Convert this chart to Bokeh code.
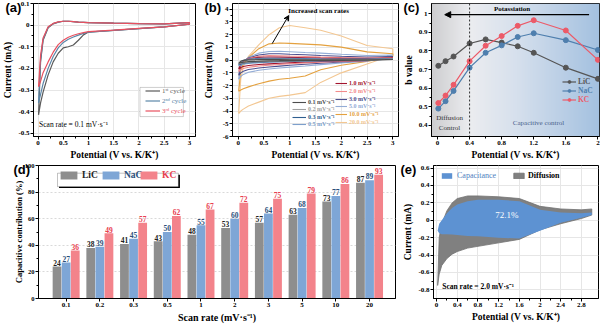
import numpy as np
from bokeh.plotting import figure
from bokeh.layouts import column, row
from bokeh.models import (Label, Legend, LegendItem, BoxAnnotation, Span, Arrow,
                          VeeHead, NormalHead, FixedTicker)
from bokeh.embed import file_html
from bokeh.resources import INLINE
from bokeh.core.properties import value

SERIF = "Liberation Serif"
SANS = "Liberation Sans"

# ---------------- (a) CV, first three cycles at 0.1 mV/s ----------------
a_E = [0.01, 0.05, 0.1, 0.2, 0.3, 0.4, 0.5, 0.6, 0.7, 0.8, 0.9, 1.0, 1.5, 2.0, 2.5, 3.0]
a_up_1 = [-0.415, -0.17, -0.07, -0.012, 0.006, 0.014, 0.018, 0.018, 0.016, 0.014, 0.013, 0.012, 0.009, 0.007, 0.006, 0.012]
a_low_1 = [-0.415, -0.36, -0.31, -0.23, -0.17, -0.13, -0.105, -0.1, -0.092, -0.07, -0.045, -0.032, -0.024, -0.016, -0.008, 0.004]
a_up_2 = [-0.36, -0.16, -0.065, -0.01, 0.007, 0.014, 0.018, 0.018, 0.016, 0.014, 0.013, 0.012, 0.009, 0.007, 0.006, 0.012]
a_low_2 = [-0.36, -0.32, -0.27, -0.2, -0.145, -0.105, -0.08, -0.065, -0.055, -0.046, -0.038, -0.032, -0.024, -0.016, -0.008, 0.004]
a_up_3 = [-0.285, -0.14, -0.06, -0.008, 0.008, 0.015, 0.018, 0.018, 0.016, 0.014, 0.013, 0.012, 0.009, 0.007, 0.006, 0.012]
a_low_3 = [-0.285, -0.26, -0.22, -0.17, -0.125, -0.09, -0.07, -0.056, -0.047, -0.04, -0.035, -0.03, -0.023, -0.015, -0.008, 0.004]
a_labels = ["1ˢᵗ cycle", "2ⁿᵈ cycle", "3ʳᵈ cycle"]
a_colors = ["#5a5a5a", "#5b86a8", "#e8505f"]

# ---------------- (b) CV at increasing scan rates ----------------
b_E = [0.01, 0.05, 0.1, 0.2, 0.4, 0.6, 0.8, 1.0, 1.3, 1.6, 2.0, 2.5, 3.0]
b_rates = ["0.1", "0.2", "0.3", "0.5", "1.0", "2.0", "3.0", "5.0", "10.0", "20.0"]
b_up = {
    "0.1": [-0.25, -0.08, -0.02, 0.02, 0.04, 0.04, 0.04, 0.035, 0.03, 0.03, 0.03, 0.03, 0.05],
    "0.2": [-0.3, -0.1, -0.03, 0.03, 0.07, 0.07, 0.07, 0.06, 0.05, 0.05, 0.05, 0.05, 0.08],
    "0.3": [-0.36, -0.12, -0.03, 0.05, 0.1, 0.11, 0.1, 0.09, 0.08, 0.07, 0.07, 0.06, 0.1],
    "0.5": [-0.46, -0.15, -0.04, 0.08, 0.15, 0.16, 0.15, 0.14, 0.12, 0.1, 0.09, 0.08, 0.12],
    "1.0": [-0.7, -0.25, -0.06, 0.1, 0.22, 0.25, 0.24, 0.22, 0.19, 0.16, 0.14, 0.12, 0.16],
    "2.0": [-0.9, -0.3, -0.08, 0.13, 0.3, 0.36, 0.35, 0.32, 0.28, 0.24, 0.2, 0.16, 0.2],
    "3.0": [-1.2, -0.4, -0.1, 0.17, 0.4, 0.5, 0.5, 0.46, 0.42, 0.36, 0.3, 0.24, 0.28],
    "5.0": [-1.5, -0.5, -0.12, 0.22, 0.55, 0.68, 0.7, 0.66, 0.6, 0.55, 0.46, 0.36, 0.4],
    "10.0": [-2.45, -0.8, -0.3, 0.2, 0.9, 1.28, 1.35, 1.32, 1.26, 1.2, 1.02, 0.65, 0.5],
    "20.0": [-4.2, -1.5, -0.5, 0.3, 1.2, 2.0, 2.55, 2.72, 2.55, 2.35, 1.9, 1.15, 0.9],
}
b_low = {
    "0.1": [-0.25, -0.2, -0.16, -0.12, -0.09, -0.07, -0.06, -0.04, -0.03, -0.02, -0.02, -0.01, 0.05],
    "0.2": [-0.3, -0.25, -0.2, -0.16, -0.12, -0.1, -0.08, -0.06, -0.04, -0.03, -0.02, -0.01, 0.08],
    "0.3": [-0.36, -0.3, -0.25, -0.2, -0.16, -0.13, -0.1, -0.08, -0.06, -0.04, -0.03, -0.01, 0.1],
    "0.5": [-0.46, -0.38, -0.32, -0.26, -0.21, -0.17, -0.14, -0.11, -0.08, -0.06, -0.04, -0.02, 0.12],
    "1.0": [-0.7, -0.58, -0.5, -0.42, -0.34, -0.29, -0.24, -0.2, -0.15, -0.11, -0.07, -0.03, 0.16],
    "2.0": [-0.9, -0.76, -0.66, -0.56, -0.46, -0.4, -0.34, -0.28, -0.22, -0.16, -0.1, -0.04, 0.2],
    "3.0": [-1.2, -1.0, -0.88, -0.74, -0.62, -0.54, -0.47, -0.4, -0.32, -0.24, -0.15, -0.05, 0.28],
    "5.0": [-1.5, -1.28, -1.12, -0.95, -0.8, -0.7, -0.62, -0.55, -0.46, -0.35, -0.22, -0.08, 0.4],
    "10.0": [-2.45, -2.35, -2.25, -2.1, -1.85, -1.65, -1.5, -1.42, -1.25, -0.75, -0.4, -0.1, 0.3],
    "20.0": [-4.2, -4.0, -3.85, -3.6, -3.3, -3.0, -2.85, -2.75, -2.55, -1.75, -1.0, -0.3, 0.4],
}
b_colors = {"0.1": "#4d4d4d", "0.2": "#a0a0a0", "0.3": "#2f5f8f", "0.5": "#7d9fcc",
            "1.0": "#a3142e", "2.0": "#f28b8b", "3.0": "#4c4f8e", "5.0": "#93acd6",
            "10.0": "#e4a13f", "20.0": "#f3c792"}

# ---------------- (c) b values ----------------
c_E = [0.01, 0.1, 0.2, 0.4, 0.6, 0.8, 1.0, 1.2, 1.6, 2.0]
c_lic = [0.72, 0.745, 0.77, 0.84, 0.862, 0.845, 0.825, 0.79, 0.71, 0.65]
c_nac = [0.49, 0.53, 0.585, 0.71, 0.79, 0.83, 0.875, 0.895, 0.858, 0.805]
c_kc = [0.52, 0.56, 0.618, 0.745, 0.828, 0.88, 0.935, 0.965, 0.91, 0.752]
samples = ["LiC", "NaC", "KC"]
c_colors = ["#555555", "#4f7fae", "#ec5a68"]

# ---------------- (d) capacitive contribution ----------------
d_rates = ["0.1", "0.2", "0.3", "0.5", "1", "2", "3", "5", "10", "20"]
d_lic = [24, 38, 41, 43, 48, 53, 57, 63, 73, 87]
d_nac = [27, 39, 45, 50, 55, 60, 64, 68, 77, 89]
d_kc = [36, 49, 57, 62, 67, 72, 75, 79, 86, 93]
d_colors = ["#8e8e8e", "#7ea6d6", "#f3838b"]
d_text_colors = ["#222222", "#2b4f7a", "#e8404f"]

# ---------------- (e) capacitive vs diffusion at 2.0 mV/s ----------------
e_E = [0.02, 0.05, 0.1, 0.2, 0.3, 0.4, 0.6, 0.8, 1.2, 1.6, 2.0, 2.4, 2.8, 3.0]
e_tot_up = [-0.75, -0.2, -0.04, 0.11, 0.2, 0.25, 0.28, 0.28, 0.27, 0.25, 0.16, 0.13, 0.12, 0.13]
e_tot_low = [-0.75, -0.62, -0.52, -0.44, -0.39, -0.36, -0.32, -0.3, -0.26, -0.22, -0.11, -0.04, 0.02, 0.06]
e_cap_up = [-0.12, -0.04, 0.0, 0.08, 0.14, 0.18, 0.22, 0.235, 0.235, 0.22, 0.12, 0.09, 0.08, 0.09]
e_cap_low = [-0.12, -0.15, -0.16, -0.16, -0.165, -0.17, -0.18, -0.185, -0.2, -0.21, -0.12, -0.03, 0.03, 0.06]
e_share = "72.1%"


def make_fig(w, h, xr, yr, ml, mr, mt, mb):
    p = figure(width=w, height=h, x_range=xr, y_range=yr, output_backend="svg",
               toolbar_location=None, min_border_left=ml, min_border_right=mr,
               min_border_top=mt, min_border_bottom=mb)
    p.outline_line_color = "black"
    p.outline_line_width = 1
    p.outline_line_alpha = 1
    p.background_fill_color = "white"
    return p


def mids(t):
    return [(a + b) / 2 for a, b in zip(t[:-1], t[1:])]


def style_axes(p, xlabel, ylabel, xt, xl, yt, yl, xminor=True, yminor=True,
               lab_fs="9.5px", tick_fs="7px", xstand=2, ystand=2, grid=True):
    xtk = FixedTicker(ticks=xt, minor_ticks=mids(xt) if xminor else [])
    ytk = FixedTicker(ticks=yt, minor_ticks=mids(yt) if yminor else [])
    p.xaxis[0].ticker = xtk
    p.yaxis[0].ticker = ytk
    p.xgrid[0].ticker = xtk
    p.ygrid[0].ticker = ytk
    p.xaxis[0].major_label_overrides = dict(zip(xt, xl))
    p.yaxis[0].major_label_overrides = dict(zip(yt, yl))
    p.xaxis[0].axis_label = xlabel
    p.yaxis[0].axis_label = ylabel
    p.xaxis[0].axis_label_standoff = xstand
    p.yaxis[0].axis_label_standoff = ystand
    for ax in (p.xaxis[0], p.yaxis[0]):
        ax.axis_label_text_font = SERIF
        ax.axis_label_text_font_style = "bold"
        ax.axis_label_text_font_size = lab_fs
        ax.axis_label_text_color = "black"
        ax.major_label_text_font = SERIF
        ax.major_label_text_font_style = "bold"
        ax.major_label_text_font_size = tick_fs
        ax.major_label_text_color = "black"
        ax.major_tick_out = 3
        ax.major_tick_in = 0
        ax.minor_tick_out = 2
        ax.minor_tick_in = 0
        ax.major_label_standoff = 1
        ax.axis_line_color = "black"
        ax.major_tick_line_color = "black"
        ax.minor_tick_line_color = "black"
    if grid:
        p.xgrid.grid_line_color = "#e6e6e6"
        p.ygrid.grid_line_color = "#e6e6e6"
    else:
        p.xgrid.grid_line_color = None
        p.ygrid.grid_line_color = None


def add_leg(p, label, renders, color, x, cy, fs="7px", gw=14, gh=7, bold=True, standoff=2):
    leg = Legend(items=[LegendItem(label=label, renderers=renders)],
                 location=(x, cy - gh / 2), orientation="vertical",
                 border_line_alpha=0, background_fill_alpha=0,
                 padding=0, margin=0, spacing=0, label_standoff=standoff,
                 glyph_width=gw, glyph_height=gh, label_height=gh,
                 label_text_font=SERIF,
                 label_text_font_style="bold" if bold else "normal",
                 label_text_font_size=fs, label_text_color=color,
                 label_text_line_height=1.0)
    p.add_layout(leg)


def panel_label(p, txt, dx):
    # panel letter drawn as the (zero-height) title so it is not clipped by the frame
    p.title.text = txt
    p.title.align = "left"
    p.title.offset = dx
    p.title.standoff = -22
    p.title.text_font = SANS
    p.title.text_font_style = "bold"
    p.title.text_font_size = "13px"
    p.title.text_color = "black"
    p.title.vertical_align = "bottom"


def txt(p, x, y, s, fs="7px", bold=False, color="black", align="left"):
    p.add_layout(Label(x=x, y=y, text=s, text_font=SERIF,
                       text_font_style="bold" if bold else "normal",
                       text_font_size=fs, text_color=color, text_align=align,
                       text_baseline="middle"))


pot_label = "Potential (V vs. K/K⁺)"

# ================= (a) =================
ax_r, ay_r = (-0.09, 3.12), (-0.515, 0.1)
pa = make_fig(200, 162, ax_r, ay_r, 28, 5, 3, 22)
a_xt = [0, 0.5, 1, 1.5, 2, 2.5, 3]
a_yt = [-0.5, -0.4, -0.3, -0.2, -0.1, 0, 0.1]
style_axes(pa, pot_label, "Current (mA)", a_xt, ["0", "0.5", "1", "1.5", "2", "2.5", "3"],
           a_yt, ["-0.5", "-0.4", "-0.3", "-0.2", "-0.1", "0", "0.1"])
a_rend = []
for up, low, col in [(a_up_1, a_low_1, a_colors[0]), (a_up_2, a_low_2, a_colors[1]),
                     (a_up_3, a_low_3, a_colors[2])]:
    a_rend.append(pa.line(a_E + a_E[::-1], up + low[::-1], line_color=col, line_width=1.2))
pa.add_layout(BoxAnnotation(left=2.02, right=2.88, top=-0.288, bottom=-0.423,
                            fill_color="white", fill_alpha=1, line_color="#333333",
                            line_width=0.8))
for i, (lab, col) in enumerate(zip(a_labels, a_colors)):
    add_leg(pa, lab, [a_rend[i]], col, 112, 45 - 10 * i, fs="7px", gw=15, gh=7, bold=False)
txt(pa, 0.02, -0.458, "Scan  rate = 0.1 mV·s⁻¹", fs="7.5px")
panel_label(pa, "(a)", -28)

# ================= (b) =================
bx_r, by_r = (-0.11, 3.11), (-6, 4.45)
pb = make_fig(200, 162, bx_r, by_r, 28, 2, 3, 24)
b_yt = [-6, -5, -4, -3, -2, -1, 0, 1, 2, 3, 4]
style_axes(pb, pot_label, "Current (mA)", a_xt, ["0", "0.5", "1", "1.5", "2", "2.5", "3"],
           b_yt, [str(v) for v in b_yt], ystand=6)
b_rend = {}
for rate in b_rates[::-1]:
    up, low = b_up[rate], b_low[rate]
    b_rend[rate] = pb.line(b_E + b_E[::-1], up + low[::-1], line_color=b_colors[rate],
                           line_width=1.1)
left_col = ["0.1", "0.2", "0.3", "0.5"]
right_col = ["1.0", "2.0", "3.0", "5.0", "10.0", "20.0"]
for i, rate in enumerate(left_col):
    add_leg(pb, rate + " mV·s⁻¹", [b_rend[rate]], b_colors[rate], 60, 33 - 7.45 * i,
            fs="6px", gw=14, gh=6)
for i, rate in enumerate(right_col):
    add_leg(pb, rate + " mV·s⁻¹", [b_rend[rate]], b_colors[rate], 103, 52 - 7.8 * i,
            fs="6px", gw=12, gh=6)
txt(pb, 1.56, 3.87, "Increased scan rates", fs="7px", bold=True, align="center")
pb.add_layout(Arrow(end=VeeHead(size=5, line_width=1, line_color="black"),
                    x_start=0.66, y_start=1.3, x_end=0.98, y_end=3.5,
                    line_width=1, line_color="black"))
panel_label(pb, "(b)", -28)

# ================= (c) =================
cx_r, cy_r = (-0.075, 2.02), (0.34, 1.055)
pc = make_fig(200, 162, cx_r, cy_r, 28, 1, 3, 22)
c_xt = [0, 0.4, 0.8, 1.2, 1.6, 2]
c_yt = [0.4, 0.5, 0.6, 0.7, 0.8, 0.9, 1]
style_axes(pc, pot_label, "b value", c_xt, ["0", "0.4", "0.8", "1.2", "1.6", "2"],
           c_yt, ["0.4", "0.5", "0.6", "0.7", "0.8", "0.9", "1"], grid=False)
# background gradient (grey diffusion side -> blue capacitive side)
N = 300
gx = np.linspace(cx_r[0], cx_r[1], N)
stops_x = [cx_r[0], 0.4, 1.0, cx_r[1]]
stops_c = [(206, 206, 208), (236, 237, 240), (214, 224, 237), (164, 193, 224)]
img = np.empty((1, N), dtype=np.uint32)
view = img.view(dtype=np.uint8).reshape((1, N, 4))
for k in range(3):
    view[0, :, k] = np.interp(gx, stops_x, [c[k] for c in stops_c]).astype(np.uint8)
view[0, :, 3] = 255
pc.image_rgba(image=[img], x=cx_r[0], y=cy_r[0], dw=cx_r[1] - cx_r[0], dh=cy_r[1] - cy_r[0])
pc.add_layout(Span(location=0.4, dimension="height", line_color="black",
                   line_dash="2 2", line_width=0.8))
c_rend = []
for vals, col in zip([c_lic, c_nac, c_kc], c_colors):
    l = pc.line(c_E, vals, line_color=col, line_width=1.2)
    s = pc.scatter(c_E, vals, size=5, fill_color=col, line_color=col)
    c_rend.append([l, s])
for i, (lab, col) in enumerate(zip(samples, c_colors)):
    add_leg(pc, lab, c_rend[i], col, 131, 54 - 9 * i, fs="7.5px", gw=14, gh=7)
pc.add_layout(Arrow(end=NormalHead(size=6, fill_color="black", line_color="black"),
                    x_start=1.89, y_start=0.995, x_end=0.09, y_end=0.995,
                    line_width=1.3, line_color="black"))
txt(pc, 0.93, 1.024, "Potassiation", fs="7px", bold=True, align="center")
txt(pc, 0.15, 0.44, "Diffusion", fs="7px", color="#333333", align="center")
txt(pc, 0.15, 0.388, "Control", fs="7px", color="#333333", align="center")
txt(pc, 1.26, 0.414, "Capacitive control", fs="7px", color="#4a5f8a", align="center")
panel_label(pc, "(c)", -28)

# ================= (d) =================
dx_r, dy_r = (-0.82, 9.77), (0, 100)
pd_ = make_fig(400, 163, dx_r, dy_r, 38, 5, 3, 22)
xi = list(range(len(d_rates)))
d_yt = [0, 20, 40, 60, 80, 100]
style_axes(pd_, "Scan rate (mV·s⁻¹)", "Capacitive contribution (%)", xi, d_rates,
           d_yt, [str(v) for v in d_yt], xminor=False, lab_fs="9.5px", ystand=-2)
pd_.yaxis[0].major_label_text_font_size = "6.5px"
pd_.yaxis[0].axis_label_text_font_size = "8.5px"
pd_.xaxis[0].axis_label_text_font_size = "10px"
pd_.xgrid.grid_line_color = None
pd_.ygrid.grid_line_color = "#d9d9d9"
pd_.ygrid.grid_line_dash = "2 2"
off = 0.27
d_rend = []
for k, (vals, col, tcol) in enumerate(zip([d_lic, d_nac, d_kc], d_colors, d_text_colors)):
    xs = [i + (k - 1) * off for i in xi]
    d_rend.append(pd_.vbar(x=xs, top=vals, width=0.26, fill_color=col, line_color=None))
    pd_.text(x=xs, y=[v + 0.6 for v in vals], text=[str(v) for v in vals],
             text_align="center", text_baseline="bottom", text_font=value(SERIF),
             text_font_style="bold", text_font_size="7.5px", text_color=tcol)
pd_.add_layout(BoxAnnotation(left=-0.21, right=3.375, top=93.1, bottom=83.0,
                             fill_color="black", fill_alpha=1, line_color=None))
pd_.add_layout(BoxAnnotation(left=-0.256, right=3.33, top=94.2, bottom=84.1,
                             fill_color="white", fill_alpha=1, line_color="black",
                             line_width=0.8))
for k, (lab, tcol, lx) in enumerate(zip(samples, d_text_colors, [20, 62, 100])):
    add_leg(pd_, lab, [d_rend[k]], tcol, lx, 123, fs="9.5px", gw=21, gh=10, standoff=3)
panel_label(pd_, "(d)", -25)

# ================= (e) =================
ex_r, ey_r = (-0.06, 3.13), (-0.9, 0.63)
pe = make_fig(200, 163, ex_r, ey_r, 33, 2, 3, 23)
e_xt = [0, 0.4, 0.8, 1.2, 1.6, 2, 2.4, 2.8]
e_yt = [-0.8, -0.6, -0.4, -0.2, 0, 0.2, 0.4, 0.6]
style_axes(pe, pot_label, "Current (mA)", e_xt, ["0", "0.4", "0.8", "1.2", "1.6", "2", "2.4", "2.8"],
           e_yt, ["-0.8", "-0.6", "-0.4", "-0.2", "0", "0.2", "0.4", "0.6"])
r_tot = pe.patch(e_E + e_E[::-1], e_tot_up + e_tot_low[::-1], fill_color="#808080",
                 line_color="#727272", line_width=0.8)
r_cap = pe.patch(e_E + e_E[::-1], e_cap_up + e_cap_low[::-1], fill_color="#5d92d2",
                 line_color=None)
add_leg(pe, "Capacitance", [r_cap], "#4f7fc0", 7, 121.5, fs="8px", gw=13, gh=7, bold=False, standoff=4)
add_leg(pe, "Diffusion", [r_tot], "black", 79, 121.5, fs="8px", gw=13, gh=7, bold=True, standoff=3)
txt(pe, 1.36, 0.06, e_share, fs="9px", color="white", align="center")
txt(pe, 0.11, -0.76, "Scan rate = 2.0 mV·s⁻¹", fs="7.5px", bold=True)
panel_label(pe, "(e)", -33)

layout = column(row(pa, pb, pc), row(pd_, pe))
open("out.html", "w").write(file_html(layout, INLINE))
